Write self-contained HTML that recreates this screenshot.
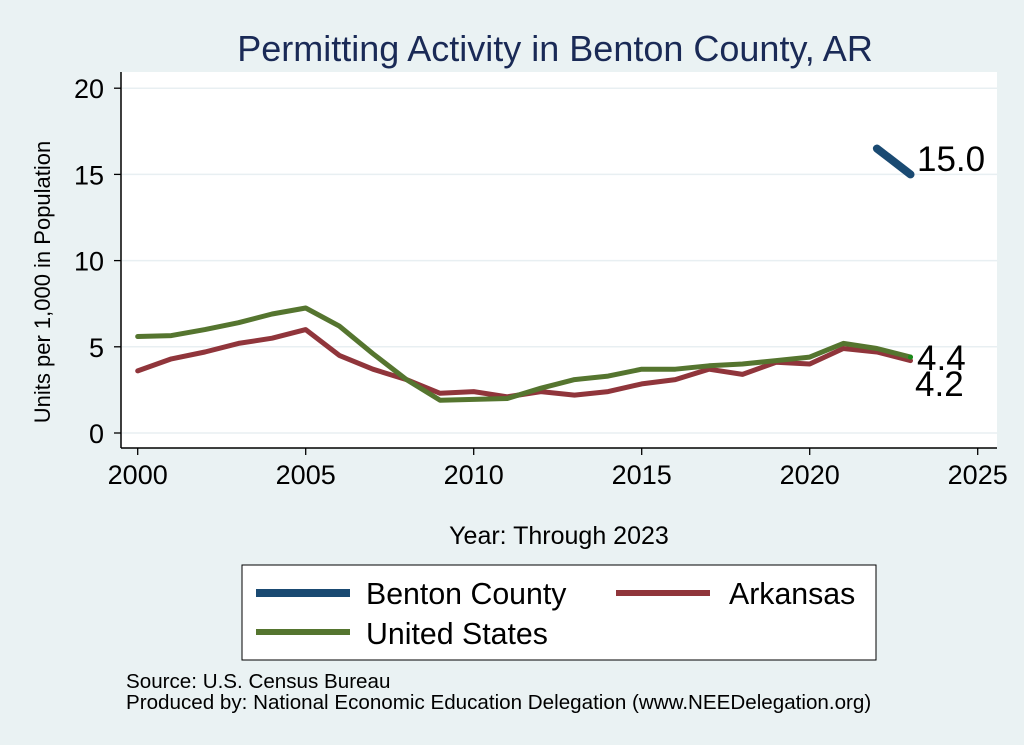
<!DOCTYPE html>
<html><head><meta charset="utf-8"><style>
body{margin:0;background:#eaf2f3;}
svg{display:block;font-family:"Liberation Sans",sans-serif;}
</style></head><body>
<svg id="s" width="1024" height="745" viewBox="0 0 1024 745">
<rect x="0" y="0" width="1024" height="745" fill="#eaf2f3"/>
<text x="555" y="61" font-size="36" fill="#1a2a56" text-anchor="middle">Permitting Activity in Benton County, AR</text>
<rect x="121" y="72" width="876" height="376" fill="#fff"/>
<g id="grid"></g>
<line x1="121" y1="72" x2="121" y2="448" stroke="#000" stroke-width="1.5"/>
<line x1="121" y1="448" x2="997" y2="448" stroke="#000" stroke-width="1.5"/>
<g id="ax" font-size="27" fill="#000"></g>
<text transform="translate(50,282) rotate(-90)" font-size="22" text-anchor="middle">Units per 1,000 in Population</text>
<text x="559" y="544" font-size="25" text-anchor="middle">Year: Through 2023</text>
<g id="lines" fill="none" stroke-linejoin="round" stroke-linecap="round"></g>
<text x="917" y="171" font-size="35">15.0</text>
<text x="917" y="370" font-size="35">4.4</text>
<text x="915" y="396" font-size="35">4.2</text>
<rect x="242" y="565" width="634" height="95" fill="#fff" stroke="#000" stroke-width="1"/>
<line x1="256" y1="593" x2="350" y2="593" stroke="#1a4a72" stroke-width="8"/>
<text x="366" y="604" font-size="30.3">Benton County</text>
<line x1="616" y1="593" x2="710" y2="593" stroke="#90353b" stroke-width="6"/>
<text x="729" y="604" font-size="30.3">Arkansas</text>
<line x1="256" y1="632" x2="350" y2="632" stroke="#55752f" stroke-width="6"/>
<text x="366" y="644" font-size="30.3">United States</text>
<text x="126" y="688" font-size="20.6">Source: U.S. Census Bureau</text>
<text x="126" y="709" font-size="20.6">Produced by: National Economic Education Delegation (www.NEEDelegation.org)</text>
</svg>
<script>
var X=function(y){return 137.7+(y-2000)*33.6},Y=function(v){return 433-v*17.24};
var g=document.getElementById('grid'),ax=document.getElementById('ax'),L=document.getElementById('lines'),ns='http://www.w3.org/2000/svg';
function el(p,t,a,txt){var e=document.createElementNS(ns,t);for(var k in a)e.setAttribute(k,a[k]);if(txt)e.textContent=txt;p.appendChild(e);return e;}
[0,5,10,15,20].forEach(function(v){var y=Y(v);
el(g,'line',{x1:122,x2:997,y1:y,y2:y,stroke:'#e8eff2','stroke-width':1.5});
el(ax,'line',{x1:114,x2:121,y1:y,y2:y,stroke:'#000','stroke-width':1.3});
el(ax,'text',{x:104,y:y+10,'text-anchor':'end'},String(v));});
[2000,2005,2010,2015,2020,2025].forEach(function(yr){var x=X(yr);
el(ax,'line',{x1:x,x2:x,y1:448,y2:455,stroke:'#000','stroke-width':1.3});
el(ax,'text',{x:x,y:484,'text-anchor':'middle'},String(yr));});
function line(d,c,w){var p=d.map(function(v,i){return X(2000+i).toFixed(1)+','+Y(v).toFixed(1)}).join(' ');el(L,'polyline',{points:p,stroke:c,'stroke-width':w});}
var ar=[3.6,4.3,4.7,5.2,5.5,6.0,4.5,3.7,3.1,2.3,2.4,2.1,2.4,2.2,2.4,2.85,3.1,3.7,3.4,4.1,4.0,4.9,4.7,4.2];
var us=[5.6,5.65,6.0,6.4,6.9,7.25,6.2,4.6,3.1,1.9,1.95,2.0,2.6,3.1,3.3,3.7,3.7,3.9,4.0,4.2,4.4,5.2,4.9,4.4];
line(ar,'#90353b',5);line(us,'#55752f',5);
el(L,'polyline',{points:X(2022)+','+Y(16.5)+' '+X(2023)+','+Y(15.0),stroke:'#1a4a72','stroke-width':8});
el(L,'circle',{cx:X(2023),cy:Y(4.4),r:2.5,fill:'#1a8a1a',stroke:'none'});
</script>
</body></html>
